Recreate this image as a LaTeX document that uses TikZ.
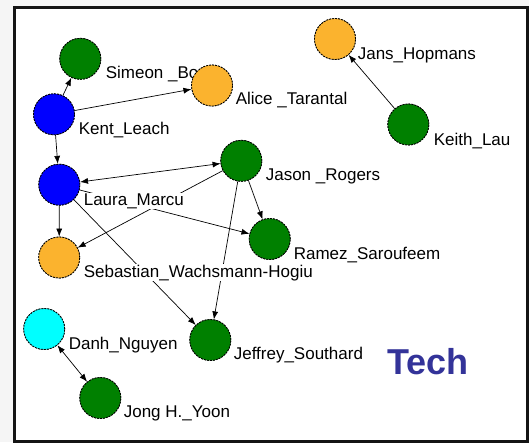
\documentclass[tikz,border=0pt]{standalone}
\usepackage{fontspec}
\setmainfont{Liberation Sans}
\usetikzlibrary{arrows.meta}
\definecolor{ngreen}{RGB}{0,128,0}
\definecolor{nblue}{RGB}{0,0,255}
\definecolor{norange}{RGB}{251,179,46}
\definecolor{ncyan}{RGB}{0,255,255}
\definecolor{techblue}{RGB}{51,51,153}
\definecolor{bggray}{RGB}{245,245,245}
\tikzset{
  person/.style={circle, minimum size=41pt, inner sep=0pt, draw=black, line width=0.8pt, dash pattern=on 2pt off 1pt},
  lbl/.style={anchor=base west, fill=white, inner sep=0.6pt, font=\fontsize{17}{19}\selectfont},
  link/.style={line width=0.7pt, -{Latex[length=8pt,width=6pt]}},
  blink/.style={line width=0.7pt, {Latex[length=8pt,width=6pt]}-{Latex[length=8pt,width=6pt]}},
}
\begin{document}
\begin{tikzpicture}[x=1pt,y=-1pt]
\useasboundingbox (0,0) rectangle (529,442);
\fill[bggray] (0,0) rectangle (529,442);
\fill[white] (13,6) rectangle (529,442);
\begin{scope}
\clip (0,0) rectangle (529,442);
\draw[line width=3pt, draw={rgb,255:red,20;green,20;blue,20}] (14.5,7.5) rectangle (527.5,441);
\end{scope}
% node coordinates (invisible anchors first for edges)
\node[person] (simeon) at (80.3,58.8) {};
\node[person] (kent) at (54,114.3) {};
\node[person] (alice) at (212,85.5) {};
\node[person] (laura) at (59.3,184.7) {};
\node[person] (jason) at (241.3,160.8) {};
\node[person] (jans) at (335,39) {};
\node[person] (keith) at (408.3,124.5) {};
\node[person] (sebastian) at (59.2,257.5) {};
\node[person] (ramez) at (269.7,239) {};
\node[person] (danh) at (44.2,329) {};
\node[person] (jong) at (100.3,398) {};
\node[person] (jeffrey) at (210.3,340) {};
% edges
\draw[link] (kent) -- (simeon);
\draw[link] (kent) -- (alice);
\draw[link] (kent) -- (laura);
\draw[blink] (laura) -- (jason);
\draw[link] (laura) -- (sebastian);
\draw[link] (laura) -- (jeffrey);
\draw[link] (laura) -- (ramez);
\draw[link] (jason) -- (sebastian);
\draw[link] (jason) -- (ramez);
\draw[link] (jason) -- (jeffrey);
\draw[link] (keith) -- (jans);
\draw[blink] (danh) -- (jong);
% labels
\node[lbl] (lsimeon) at (105,78) {Simeon \_Bo};
\node[lbl] (lkent) at (78,134) {Kent\_Leach};
\node[lbl] (lalice) at (235,104) {Alice \_Tarantal};
\node[lbl] (llaura) at (83,205) {Laura\_Marcu};
\node[lbl] (ljason) at (265,180) {Jason \_Rogers};
\node[lbl] (ljans) at (357,59) {Jans\_Hopmans};
\node[lbl] (lkeith) at (433,145) {Keith\_Lau};
\node[lbl] (lsebastian) at (83,277) {Sebastian\_Wachsmann-Hogiu};
\node[lbl] (lramez) at (293,259) {Ramez\_Saroufeem};
\node[lbl] (ldanh) at (68,349) {Danh\_Nguyen};
\node[lbl] (ljong) at (123,417) {Jong H.\_Yoon};
\node[lbl] (ljeffrey) at (233,359) {Jeffrey\_Southard};
% circles on top
\node[person, fill=ngreen] at (simeon) {};
\node[person, fill=nblue] at (kent) {};
\node[person, fill=norange] at (alice) {};
\node[person, fill=nblue] at (laura) {};
\node[person, fill=ngreen] at (jason) {};
\node[person, fill=norange] at (jans) {};
\node[person, fill=ngreen] at (keith) {};
\node[person, fill=norange] at (sebastian) {};
\node[person, fill=ngreen] at (ramez) {};
\node[person, fill=ncyan] at (danh) {};
\node[person, fill=ngreen] at (jong) {};
\node[person, fill=ngreen] at (jeffrey) {};
% title
\node[font=\fontsize{36}{40}\bfseries\selectfont, text=techblue, anchor=base west, inner sep=0pt] (tech) at (387,374) {Tech};
\end{tikzpicture}
\end{document}
